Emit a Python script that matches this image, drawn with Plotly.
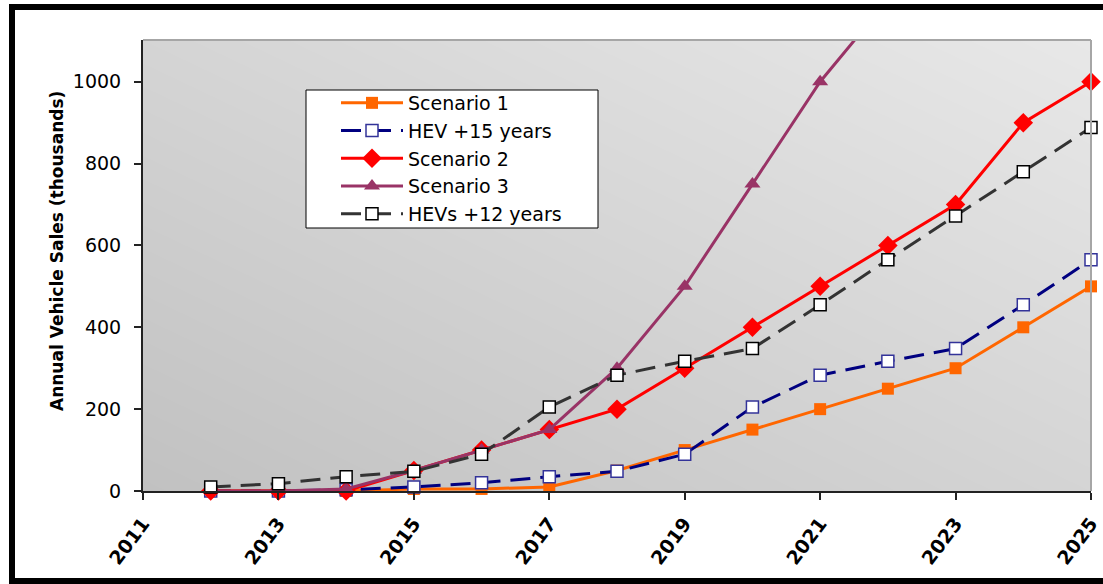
import plotly.graph_objects as go

# Annual vehicle sales projections (thousands of vehicles)
years = [2012, 2013, 2014, 2015, 2016, 2017, 2018, 2019, 2020, 2021, 2022, 2023, 2024, 2025]

scenario_1 = [0, 0, 0, 5, 5, 10, 50, 100, 150, 200, 250, 300, 400, 500]
hev_15 = [0, 0, 3, 10, 20, 35, 48, 90, 205, 283, 317, 348, 455, 565]
scenario_2 = [0, 0, 0, 50, 100, 150, 200, 300, 400, 500, 600, 700, 900, 1000]
scenario_3 = [0, 0, 5, 50, 100, 150, 300, 500, 750, 1000, 1200]
hev_12 = [10, 18, 35, 48, 90, 205, 283, 317, 348, 455, 565, 672, 780, 888]

x_range = [2011, 2025]
y_range = [0, 1102]
y_ticks = [0, 200, 400, 600, 800, 1000]
x_ticks = [2011, 2013, 2015, 2017, 2019, 2021, 2023, 2025]

W, H = 1103, 584
ML, MR, MT, MB = 143, 12, 40, 93
PW, PH = W - ML - MR, H - MT - MB

FONT = "DejaVu Sans, Liberation Sans, Arial, sans-serif"


def px_x(p):
    return (p - ML) / PW


def px_y(p):
    return (H - MB - p) / PH


fig = go.Figure()

# diagonal grey gradient behind the plot area (dark lower-left, light upper-right)
fig.add_trace(go.Heatmap(
    x=x_range, y=y_range, z=[[0, 1], [1, 2]],
    zsmooth="best", showscale=False, hoverinfo="skip",
    colorscale=[[0, "#c1c1c1"], [1, "#e8e8e8"]],
    showlegend=False,
))

dash = "20px,10px"
fig.add_trace(go.Scatter(
    x=years, y=scenario_1, name="Scenario 1", mode="lines+markers",
    line=dict(color="#ff6600", width=3),
    marker=dict(symbol="square", size=12, color="#ff6600"),
    cliponaxis=False,
))
fig.add_trace(go.Scatter(
    x=years, y=hev_15, name="HEV +15 years", mode="lines+markers",
    line=dict(color="#000080", width=3, dash=dash),
    marker=dict(symbol="square", size=12, color="white",
                line=dict(color="#333399", width=1.5)),
    cliponaxis=False,
))
fig.add_trace(go.Scatter(
    x=years, y=scenario_2, name="Scenario 2", mode="lines+markers",
    line=dict(color="#ff0000", width=3),
    marker=dict(symbol="diamond", size=15, color="#ff0000"),
    cliponaxis=False,
))
fig.add_trace(go.Scatter(
    x=years[:len(scenario_3)], y=scenario_3, name="Scenario 3", mode="lines+markers",
    line=dict(color="#993366", width=3),
    marker=dict(symbol="triangle-up", size=14, color="#993366"),
    cliponaxis=True,
))
fig.add_trace(go.Scatter(
    x=years, y=hev_12, name="HEVs +12 years", mode="lines+markers",
    line=dict(color="#333333", width=3, dash=dash),
    marker=dict(symbol="square", size=12, color="white",
                line=dict(color="#000000", width=1.5)),
    cliponaxis=False,
))

shapes = [
    # plot area top and right edges
    dict(type="line", xref="paper", yref="paper", x0=0, x1=1, y0=1, y1=1,
         line=dict(color="#a6a6a6", width=2)),
    dict(type="line", xref="paper", yref="paper", x0=1, x1=1, y0=0, y1=1,
         line=dict(color="#a6a6a6", width=2)),
    # legend box
    dict(type="rect", xref="paper", yref="paper", layer="above",
         x0=px_x(306), x1=px_x(598), y0=px_y(228), y1=px_y(90),
         line=dict(color="black", width=1), fillcolor="white"),
    # heavy outer frame
    dict(type="rect", xref="paper", yref="paper",
         x0=px_x(12), x1=px_x(1112), y0=px_y(581), y1=px_y(7),
         line=dict(color="black", width=6), fillcolor="rgba(0,0,0,0)"),
]

fig.update_layout(
    width=W, height=H,
    margin=dict(l=ML, r=MR, t=MT, b=MB, pad=0, autoexpand=False),
    paper_bgcolor="white", plot_bgcolor="#d4d4d4",
    font=dict(family=FONT, color="black"),
    shapes=shapes,
    showlegend=True,
    legend=dict(
        x=px_x(336), y=px_y(84), xanchor="left", yanchor="top",
        bgcolor="rgba(0,0,0,0)", borderwidth=0,
        font=dict(size=19, family=FONT),
        itemwidth=62, tracegroupgap=0,
    ),
    annotations=[dict(
        text="<b>Annual Vehicle Sales (thousands)</b>",
        xref="paper", yref="paper", x=px_x(45), y=px_y(251),
        textangle=-90, showarrow=False,
        font=dict(size=17, family=FONT),
    )],
)

fig.update_xaxes(
    range=x_range, tickvals=x_ticks, ticktext=[f"<b>{t}</b>" for t in x_ticks],
    tickangle=-53, tickfont=dict(size=19, family=FONT),
    showgrid=False, zeroline=False, automargin=False,
    showline=True, linecolor="#222222", linewidth=2,
    ticks="outside", ticklen=7, tickcolor="#222222", tickwidth=1.5,
    ticklabelstandoff=5,
)
fig.update_yaxes(
    range=y_range, tickvals=y_ticks, tickfont=dict(size=19, family=FONT),
    showgrid=False, zeroline=False, automargin=False,
    showline=True, linecolor="#222222", linewidth=2,
    ticks="outside", ticklen=7, tickcolor="#222222", tickwidth=1.5,
    ticklabelstandoff=9,
)

fig.write_html("out.html")
